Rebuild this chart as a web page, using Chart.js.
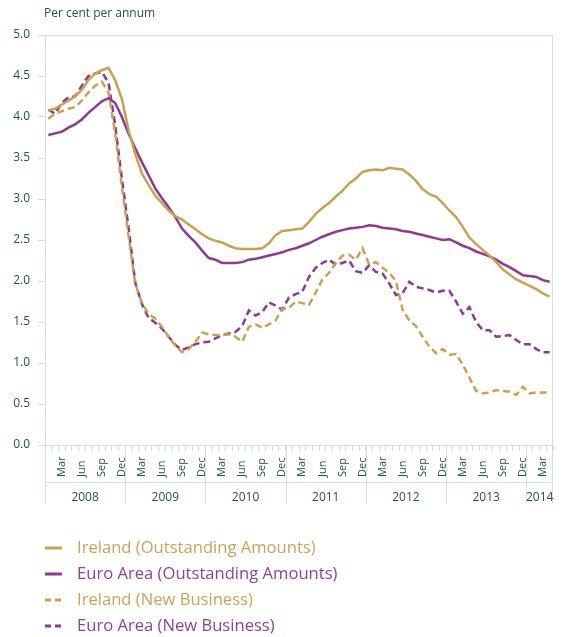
<!DOCTYPE html>
<html>
<head>
<meta charset="utf-8">
<script src="https://cdn.jsdelivr.net/npm/chart.js@4.4.1/dist/chart.umd.min.js"></script>
<style>
  html, body { margin: 0; padding: 0; background: #fff; }
  #wrap { width: 563px; height: 637px; position: relative; }
</style>
</head>
<body>
<div id="wrap"><canvas id="chart"></canvas></div>
<script>
// Data: monthly, Jan 2008 - Apr 2014
const years = ['2008', '2009', '2010', '2011', '2012', '2013', '2014'];
const monthNames = ['Jan', 'Feb', 'Mar', 'Apr', 'May', 'Jun', 'Jul', 'Aug', 'Sep', 'Oct', 'Nov', 'Dec'];
const shownMonths = ['Mar', 'Jun', 'Sep', 'Dec'];
const yTicks = [0, 0.5, 1, 1.5, 2, 2.5, 3, 3.5, 4, 4.5, 5];

const irlOutstanding = [4.08, 4.10, 4.15, 4.20, 4.25, 4.33, 4.45, 4.53, 4.57, 4.60,
  4.45, 4.22, 3.84, 3.55, 3.31, 3.17, 3.04, 2.95, 2.86, 2.79,
  2.75, 2.69, 2.63, 2.57, 2.52, 2.49, 2.47, 2.43, 2.40, 2.39,
  2.39, 2.39, 2.40, 2.46, 2.56, 2.61, 2.62, 2.63, 2.64, 2.72,
  2.82, 2.89, 2.95, 3.03, 3.10, 3.19, 3.25, 3.33, 3.35, 3.36,
  3.35, 3.38, 3.37, 3.36, 3.30, 3.22, 3.12, 3.06, 3.03, 2.95,
  2.86, 2.78, 2.66, 2.53, 2.45, 2.38, 2.31, 2.23, 2.14, 2.08,
  2.02, 1.98, 1.94, 1.90, 1.85, 1.81];

const euroOutstanding = [3.78, 3.80, 3.82, 3.87, 3.91, 3.97, 4.05, 4.12, 4.19, 4.23,
  4.17, 4.00, 3.80, 3.62, 3.45, 3.29, 3.13, 3.01, 2.90, 2.78,
  2.64, 2.55, 2.47, 2.37, 2.28, 2.26, 2.22, 2.22, 2.22, 2.23,
  2.26, 2.27, 2.29, 2.31, 2.33, 2.35, 2.38, 2.40, 2.43, 2.46,
  2.50, 2.54, 2.57, 2.60, 2.62, 2.64, 2.65, 2.66, 2.68, 2.67,
  2.65, 2.64, 2.63, 2.61, 2.60, 2.58, 2.56, 2.54, 2.52, 2.50,
  2.51, 2.47, 2.43, 2.40, 2.36, 2.33, 2.30, 2.26, 2.21, 2.17,
  2.12, 2.07, 2.06, 2.05, 2.01, 1.99];

const irlNew = [3.98, 4.04, 4.07, 4.10, 4.12, 4.20, 4.30, 4.38, 4.43, 4.30,
  3.80, 3.15, 2.55, 1.97, 1.73, 1.60, 1.54, 1.44, 1.32, 1.21,
  1.13, 1.17, 1.26, 1.37, 1.35, 1.34, 1.34, 1.35, 1.32, 1.26,
  1.44, 1.47, 1.43, 1.47, 1.52, 1.66, 1.67, 1.75, 1.73, 1.71,
  1.86, 2.02, 2.10, 2.22, 2.31, 2.32, 2.26, 2.40, 2.20, 2.23,
  2.16, 2.10, 2.00, 1.65, 1.52, 1.45, 1.32, 1.20, 1.12, 1.17,
  1.10, 1.11, 0.98, 0.82, 0.66, 0.63, 0.64, 0.67, 0.66, 0.65,
  0.61, 0.71, 0.63, 0.64, 0.64, 0.64];

const euroNew = [4.09, 4.04, 4.17, 4.24, 4.25, 4.38, 4.50, 4.53, 4.55, 4.42,
  3.90, 3.25, 2.65, 1.98, 1.72, 1.55, 1.49, 1.42, 1.32, 1.22,
  1.16, 1.19, 1.23, 1.25, 1.26, 1.30, 1.34, 1.36, 1.38, 1.45,
  1.64, 1.58, 1.62, 1.74, 1.70, 1.65, 1.80, 1.84, 1.87, 2.05,
  2.16, 2.22, 2.26, 2.20, 2.22, 2.25, 2.12, 2.10, 2.19, 2.11,
  2.09, 1.97, 1.83, 1.85, 1.99, 1.93, 1.91, 1.89, 1.86, 1.88,
  1.88, 1.75, 1.60, 1.68, 1.50, 1.40, 1.40, 1.32, 1.33, 1.34,
  1.28, 1.23, 1.23, 1.17, 1.13, 1.13];

const seriesNames = ['Ireland (Outstanding Amounts)', 'Euro Area (Outstanding Amounts)',
  'Ireland (New Business)', 'Euro Area (New Business)'];

// month categories, Jan 2008 .. Apr 2014
const categories = [];
years.forEach(y => monthNames.forEach(m => {
  if (categories.length < irlOutstanding.length) categories.push(m + ' ' + y);
}));

const gold = '#c9a155';
const purple = '#8d3a8f';
const goldText = '#c9a35c';
const purpleText = '#933f95';
const axisLine = '#d3dfe4';
const textCol = '#24505e';
const font = '"Open Sans", sans-serif';

// title, lower axis frame, month + year labels, legend
const frame = {
  id: 'frame',
  afterDraw(chart) {
    const { ctx, chartArea: a } = chart;
    const x = chart.scales.x;
    const step = (a.right - a.left) / categories.length;
    const sepY = 482, botY = 503;
    ctx.save();

    ctx.fillStyle = textCol;
    ctx.font = '12px ' + font;
    ctx.textAlign = 'left';
    ctx.textBaseline = 'middle';
    ctx.fillText('Per cent per annum', 44, 14);

    ctx.strokeStyle = axisLine;
    ctx.lineWidth = 1;
    const line = (x1, y1, x2, y2) => {
      ctx.beginPath(); ctx.moveTo(x1, y1); ctx.lineTo(x2, y2); ctx.stroke();
    };
    const L = Math.round(a.left) + 0.5, R = Math.round(a.right) - 0.5;
    line(L, a.bottom, L, botY);
    line(R, a.top, R, botY);
    line(L, sepY + 0.5, R, sepY + 0.5);

    // year groups
    ctx.textAlign = 'center';
    ctx.font = '12px ' + font;
    years.forEach((yr, k) => {
      const start = Math.max(x.getPixelForValue(k * 12) - step / 2, a.left);
      const lastIdx = Math.min(k * 12 + 11, categories.length - 1);
      const end = Math.min(x.getPixelForValue(lastIdx) + step / 2, a.right);
      if (k > 0) line(Math.round(start) + 0.5, a.bottom, Math.round(start) + 0.5, botY);
      ctx.fillText(yr, (start + end) / 2, 498);
    });

    // rotated month labels
    ctx.font = '11px ' + font;
    ctx.textAlign = 'left';
    categories.forEach((c, i) => {
      const m = c.split(' ')[0];
      if (!shownMonths.includes(m)) return;
      ctx.save();
      ctx.translate(x.getPixelForValue(i), 477);
      ctx.rotate(-Math.PI / 2);
      ctx.fillText(m, 0, 0);
      ctx.restore();
    });

    // legend
    ctx.font = '16.6px ' + font;
    ctx.textAlign = 'left';
    chart.data.datasets.forEach((ds, i) => {
      const y = 548 + i * 26;
      ctx.strokeStyle = ds.borderColor;
      ctx.lineWidth = 3;
      ctx.setLineDash(ds.borderDash && ds.borderDash.length ? [6, 4] : []);
      line(45, y, 62, y);
      ctx.setLineDash([]);
      ctx.fillStyle = ds.borderColor === gold ? goldText : purpleText;
      ctx.fillText(ds.label, 77, y);
    });
    ctx.restore();
  }
};

const ctx = document.getElementById('chart').getContext('2d');
const lineStyle = { borderWidth: 2.5, pointRadius: 0, tension: 0, fill: false };

new Chart(ctx, {
  type: 'line',
  data: {
    labels: categories,
    datasets: [
      { label: seriesNames[0], data: irlOutstanding, borderColor: gold, ...lineStyle },
      { label: seriesNames[1], data: euroOutstanding, borderColor: purple, ...lineStyle },
      { label: seriesNames[2], data: irlNew, borderColor: gold, borderDash: [7, 4], ...lineStyle },
      { label: seriesNames[3], data: euroNew, borderColor: purple, borderDash: [7, 4], ...lineStyle }
    ]
  },
  options: {
    responsive: true,
    maintainAspectRatio: false,
    animation: false,
    devicePixelRatio: 1,
    layout: { padding: { top: 35, right: 10, bottom: 132, left: 0 } },
    plugins: { legend: { display: false }, tooltip: { enabled: false } },
    scales: {
      x: {
        type: 'category',
        offset: true,
        grid: { offset: true, drawOnChartArea: false, tickLength: 6, color: axisLine },
        border: { color: axisLine },
        ticks: { display: false },
        afterFit: s => { s.height = 60; }
      },
      y: {
        min: 0,
        max: 5,
        afterBuildTicks: s => { s.ticks = yTicks.map(v => ({ value: v })); },
        grid: {
          drawOnChartArea: true,
          color: c => (c.tick && c.tick.value === 5 ? axisLine : 'rgba(0,0,0,0)'),
          tickColor: axisLine,
          tickLength: 7
        },
        border: { color: axisLine },
        ticks: {
          padding: 8,
          color: textCol,
          font: { family: font, size: 12 },
          callback: v => Number(v).toFixed(1)
        },
        afterFit: s => { s.width = 45; }
      }
    }
  },
  plugins: [frame]
});
</script>
</body>
</html>
